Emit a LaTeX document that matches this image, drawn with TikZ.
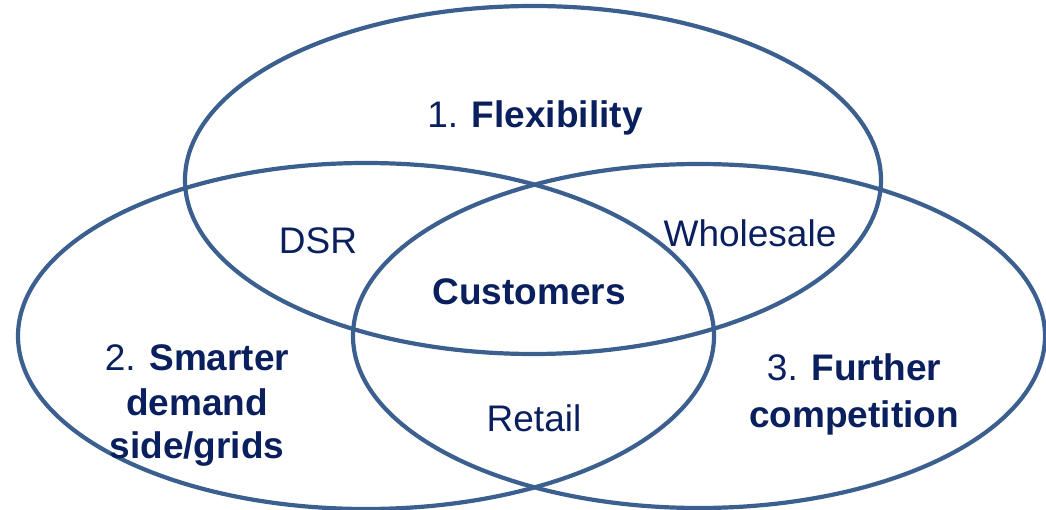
\documentclass[tikz,border=0pt]{standalone}
\usepackage{fontspec}
\setmainfont{Liberation Sans}
\definecolor{ringblue}{HTML}{3B5F8E}
\definecolor{textnavy}{HTML}{0A1F5E}
\begin{document}
\begin{tikzpicture}[x=1pt,y=-1pt,
  ring/.style={draw=ringblue,line width=4.2pt},
  lbl/.style={text=textnavy,font=\fontsize{37}{45}\selectfont,anchor=base,inner sep=0pt}]
\useasboundingbox (0,0) rectangle (1046,510);
\draw[ring] (533,180) ellipse [x radius=348pt, y radius=174pt];
\draw[ring] (366,336) ellipse [x radius=348pt, y radius=173pt];
\draw[ring] (699,336) ellipse [x radius=346pt, y radius=172pt];
\node[lbl] (flex) at (535,128) {1. \textbf{Flexibility}};
\node[lbl] (dsr) at (318,254) {DSR};
\node[lbl] (whole) at (750,247) {Wholesale};
\node[lbl] (cust) at (529,305) {\textbf{Customers}};
\node[lbl] (retail) at (534,431) {Retail};
\node[lbl] (smart1) at (197,370) {2. \textbf{Smarter}};
\node[lbl] (smart2) at (197,415) {\textbf{demand}};
\node[lbl] (smart3) at (197,458) {\textbf{side/grids}};
\node[lbl] (comp1) at (854,380) {3. \textbf{Further}};
\node[lbl] (comp2) at (854,427) {\textbf{competition}};
\end{tikzpicture}
\end{document}
